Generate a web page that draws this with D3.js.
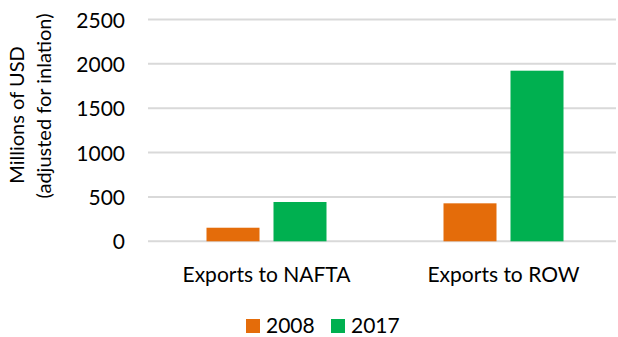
<!DOCTYPE html>
<html><head><meta charset="utf-8">
<script src="https://cdn.jsdelivr.net/npm/d3@7"></script>
<style>body{margin:0;background:#fff;} text{font-family:Lato,"Open Sans",sans-serif;fill:#000;}</style>
</head><body>
<svg id="c" width="618" height="337"></svg>
<script>
const categories = ["Exports to NAFTA", "Exports to ROW"];
const series = ["2008", "2017"];
const values2008 = [153, 428];
const values2017 = [443, 1923];
const yTicks = [0, 500, 1000, 1500, 2000, 2500];
const colors = ["#E46C0A", "#00B050"];

const svg = d3.select("#c");
const y = d3.scaleLinear().domain([0, 2500]).range([241.3, 19.5]);
const x = d3.scaleBand().domain(categories).range([148, 622]);
const groupW = 120;
const xi = d3.scaleBand().domain(series).range([0, groupW]).paddingInner(0.209);

// gridlines
svg.append("g").selectAll("line").data(yTicks).join("line")
  .attr("x1", 148).attr("x2", 616)
  .attr("y1", d => y(d)).attr("y2", d => y(d))
  .attr("stroke", "#D9D9D9").attr("stroke-width", 2);

// y axis labels
const yAxis = d3.axisLeft(y).tickValues(yTicks).tickFormat(d3.format("d")).tickSize(0).tickPadding(0);
const ga = svg.append("g").attr("transform", "translate(125,0)").call(yAxis);
ga.select(".domain").remove();
ga.selectAll("text").attr("font-size", 21).attr("font-family", "Lato").attr("fill", "#000").attr("dy", "0.36em");

// bars
const data = categories.map((c, i) => ({cat: c, vals: [values2008[i], values2017[i]]}));
const groups = svg.append("g").selectAll("g").data(data).join("g")
  .attr("transform", d => `translate(${x(d.cat) + (x.bandwidth() - groupW) / 2},0)`);
groups.selectAll("rect").data(d => d.vals.map((v, j) => ({s: series[j], v, j}))).join("rect")
  .attr("x", d => xi(d.s)).attr("width", xi.bandwidth())
  .attr("y", d => y(d.v)).attr("height", d => y(0) - y(d.v))
  .attr("fill", d => colors[d.j]);

// category labels
svg.append("g").selectAll("text").data(categories).join("text")
  .attr("x", d => x(d) + x.bandwidth() / 2).attr("y", 281.5)
  .attr("text-anchor", "middle").attr("font-size", 21).text(d => d);

// y title
svg.append("text").attr("transform", "translate(24,115) rotate(-90)")
  .attr("text-anchor", "middle").attr("font-size", 20).text("Millions of USD");
svg.append("text").attr("transform", "translate(51,106) rotate(-90)")
  .attr("text-anchor", "middle").attr("font-size", 20).text("(adjusted for inlation)");

// legend
const legX = [246, 331];
const lg = svg.append("g").selectAll("g").data(series).join("g")
  .attr("transform", (d, i) => `translate(${legX[i]},0)`);
lg.append("rect").attr("x", 0).attr("y", 319).attr("width", 14).attr("height", 14)
  .attr("fill", (d, i) => colors[i]);
lg.append("text").attr("x", 20).attr("y", 333).attr("font-size", 21).text(d => d);
</script>
</body></html>
